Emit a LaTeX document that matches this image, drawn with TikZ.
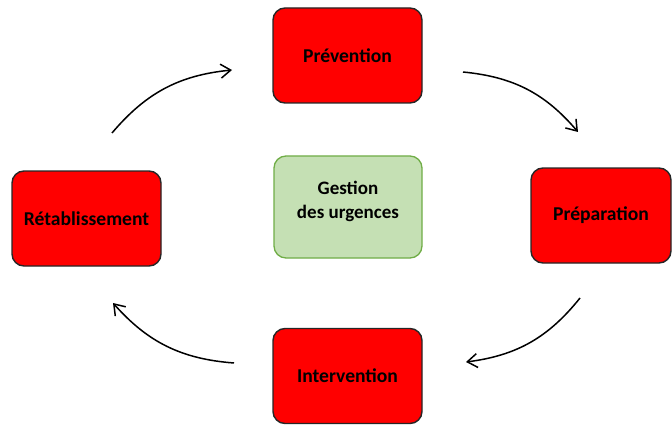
\documentclass[tikz,border=0pt]{standalone}
\usepackage{fontspec}
\setmainfont{Carlito}
\usetikzlibrary{arrows.meta}

\begin{document}
\begin{tikzpicture}[x=1pt, y=-1pt,
  phase/.style={draw=black!85, fill=red, line width=1.4pt, rounded corners=12pt,
    minimum height=95pt, font=\fontsize{19.6}{23}\selectfont\bfseries},
  core/.style={draw={rgb,255:red,112;green,173;blue,71}, fill={rgb,255:red,197;green,224;blue,180},
    line width=1.3pt, rounded corners=12pt, minimum width=148pt, minimum height=102pt,
    align=center, text depth=14pt, font=\fontsize{19}{24}\selectfont\bfseries},
  arr/.style={line width=1.5pt, -{Straight Barb[length=10pt,width=14pt]}}]
\useasboundingbox (0,0) rectangle (672,425);
\foreach \nm/\x/\y/\w/\lbl in {prev/347.5/55.5/149/Prévention, prep/601/215.5/140/Préparation,
  inter/347.5/376/149/Intervention, retab/86.5/218.5/149/Rétablissement}{
  \node[phase, minimum width=\w pt] (\nm) at (\x,\y) {\lbl};
}
\node[core] (gest) at (348,207) {Gestion\\des urgences};

\foreach \i/\sx/\sy/\ex/\ey in {1/112/133/232/70, 2/463/72/578/132, 3/580/298/466/362, 4/234/363/113/303}{
  \coordinate (s\i) at (\sx,\sy);
  \coordinate (e\i) at (\ex,\ey);
  \draw[arr] (s\i) to[bend left=22] (e\i);
}
\end{tikzpicture}
\end{document}
